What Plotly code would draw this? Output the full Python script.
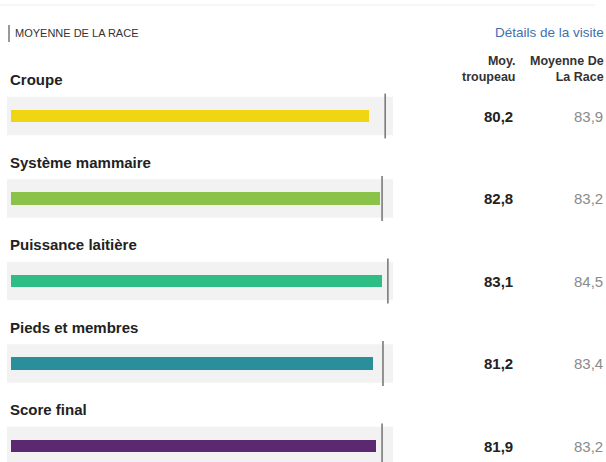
import plotly.graph_objects as go

categories = ["Croupe", "Système mammaire", "Puissance laitière", "Pieds et membres", "Score final"]
herd_avg = [80.2, 82.8, 83.1, 81.2, 81.9]
breed_avg = [83.9, 83.2, 84.5, 83.4, 83.2]
colors = ["#f0d612", "#8bc34a", "#2fbd86", "#2a8e9b", "#5c2870"]
header_herd = "Moy.<br>troupeau"
header_breed = "Moyenne De<br>La Race"

W, H = 606, 462
FONT = "Arial, Liberation Sans, sans-serif"

def fmt(v):
    return f"{v:.1f}".replace(".", ",")

ypos = list(range(len(categories)))

fig = go.Figure()

# herd average bars
fig.add_trace(go.Bar(
    x=herd_avg, y=ypos, orientation="h", marker=dict(color=colors, line=dict(width=0)),
    width=0.155, hoverinfo="skip", showlegend=False))

# breed average markers
fig.add_trace(go.Scatter(
    x=breed_avg, y=ypos, mode="markers",
    marker=dict(symbol="line-ns", size=32, line=dict(width=1.6, color="#7a7a7a")),
    hoverinfo="skip", showlegend=False))

shapes = []
annotations = []
for i, cat in enumerate(categories):
    shapes.append(dict(type="rect", xref="x domain", yref="y", x0=0, x1=1,
                       y0=i - 0.232, y1=i + 0.232, fillcolor="#f2f2f2",
                       line=dict(width=0), layer="below"))
    annotations.append(dict(text=f"<b>{cat}</b>", xref="paper", yref="y",
                            x=8 / W, y=i - 0.44, xanchor="left", yanchor="middle",
                            showarrow=False, font=dict(family=FONT, size=15, color="#222")))
    annotations.append(dict(text=f"<b>{fmt(herd_avg[i])}</b>", xref="paper", yref="y",
                            x=515 / W, y=i, xanchor="right", yanchor="middle",
                            showarrow=False, font=dict(family=FONT, size=15, color="#222")))
    annotations.append(dict(text=fmt(breed_avg[i]), xref="paper", yref="y",
                            x=605 / W, y=i, xanchor="right", yanchor="middle",
                            showarrow=False, font=dict(family=FONT, size=15, color="#8a8a8a")))

# header texts
annotations += [
    dict(text="MOYENNE DE LA RACE", xref="paper", yref="paper", x=13 / W, y=1 - 33 / H,
         xanchor="left", yanchor="middle", showarrow=False,
         font=dict(family=FONT, size=11, color="#333")),
    dict(text="Détails de la visite", xref="paper", yref="paper", x=606 / W, y=1 - 33 / H,
         xanchor="right", yanchor="middle", showarrow=False,
         font=dict(family=FONT, size=13.5, color="#3f6fb0")),
    dict(text=f"<b>{header_herd}</b>", xref="paper", yref="paper", x=517 / W, y=1 - 69 / H,
         xanchor="right", yanchor="middle", align="right", showarrow=False,
         font=dict(family=FONT, size=12.5, color="#333")),
    dict(text=f"<b>{header_breed}</b>", xref="paper", yref="paper", x=606 / W, y=1 - 69 / H,
         xanchor="right", yanchor="middle", align="right", showarrow=False,
         font=dict(family=FONT, size=12.5, color="#333")),
]
shapes += [
    dict(type="line", xref="paper", yref="paper", x0=9 / W, x1=9 / W,
         y0=1 - 25 / H, y1=1 - 42 / H, line=dict(color="#777", width=1.5)),
    dict(type="line", xref="paper", yref="paper", x0=0, x1=595 / W,
         y0=1 - 5 / H, y1=1 - 5 / H, line=dict(color="#eeeeee", width=1)),
]

# axis geometry
x_min, x_max = -0.9, 85.65
row_px, first_center = 82.5, 116
y_top = -first_center / row_px
y_bot = (H - first_center) / row_px

fig.update_layout(
    width=W, height=H, margin=dict(l=0, r=0, t=0, b=0),
    paper_bgcolor="white", plot_bgcolor="white",
    xaxis=dict(domain=[7 / W, 393 / W], range=[x_min, x_max], visible=False, fixedrange=True),
    yaxis=dict(range=[y_bot, y_top], visible=False, fixedrange=True),
    shapes=shapes, annotations=annotations, bargap=0,
)

fig.write_html("out.html", config={"displayModeBar": False},
               post_script="document.body.style.margin='0';document.body.style.overflow='hidden';")
